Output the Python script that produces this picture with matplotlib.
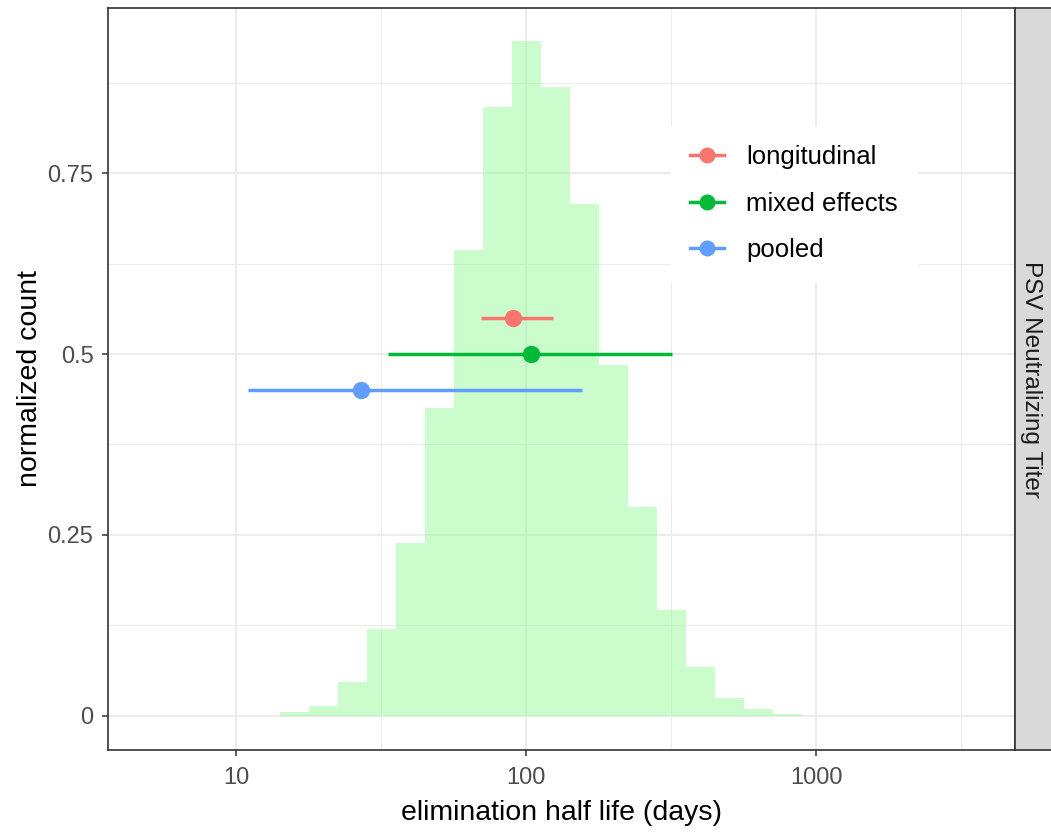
import numpy as np
import matplotlib.pyplot as plt
from matplotlib.lines import Line2D
from matplotlib.patches import Rectangle

plt.rcParams['font.family'] = ['Liberation Sans', 'DejaVu Sans']

# histogram of log10(half life), bin centres every 0.1 decade
bin_centres = [1.2, 1.3, 1.4, 1.5, 1.6, 1.7, 1.8, 1.9, 2.0, 2.1, 2.2,
               2.3, 2.4, 2.5, 2.6, 2.7, 2.8, 2.9]
norm_count = [0.006, 0.014, 0.047, 0.12, 0.239, 0.426, 0.643, 0.841, 0.932,
              0.869, 0.707, 0.485, 0.288, 0.147, 0.067, 0.025, 0.009, 0.003]

# point estimates with intervals
methods = ['longitudinal', 'mixed effects', 'pooled']
estimate = [90, 104, 27]
lower = [70, 33.4, 11]
upper = [124, 318, 156]
y_pos = [0.55, 0.50, 0.45]
colours = ['#F8766D', '#00BA38', '#619CFF']

fig = plt.figure(figsize=(10.51, 8.32), dpi=100)
fig.patch.set_facecolor('white')
ax = fig.add_axes([0.1028, 0.0986, 0.8629, 0.8918])
ax.set_xscale('log')
ax.set_axisbelow(True)

edges = [10 ** (bin_centres[0] - 0.05)] + [10 ** (c + 0.05) for c in bin_centres]
ax.stairs(norm_count, edges, fill=True, color='palegreen', alpha=0.5, lw=0)

for m, est, lo, hi, y, c in zip(methods, estimate, lower, upper, y_pos, colours):
    ax.plot([lo, hi], [y, y], color=c, lw=2.5, solid_capstyle='butt', zorder=3)
    ax.plot([est], [y], 'o', color=c, ms=11.5, zorder=4)

ax.set_xlim(10 ** 0.5586, 10 ** 3.686)
ax.set_ylim(-0.047, 0.978)
ax.set_xticks([10, 100, 1000])
ax.set_xticklabels(['10', '100', '1000'])
ax.set_xticks([10 ** 1.5, 10 ** 2.5, 10 ** 3.5], minor=True)
ax.set_xticklabels([], minor=True)
ax.set_yticks([0, 0.25, 0.5, 0.75])
ax.set_yticklabels(['0', '0.25', '0.5', '0.75'])
ax.set_yticks([0.125, 0.375, 0.625, 0.875], minor=True)

ax.grid(True, which='major', color='#EBEBEB', lw=1.3)
ax.grid(True, which='minor', color='#EBEBEB', lw=0.7)
ax.tick_params(which='major', length=4, width=1.1, color='#333333',
               labelsize=17, labelcolor='#4D4D4D')
ax.tick_params(axis='x', which='major', pad=8)
ax.tick_params(axis='y', which='major', pad=6.5)
ax.tick_params(which='minor', length=0)
for s in ax.spines.values():
    s.set_color('#333333')
    s.set_linewidth(1.2)

ax.set_xlabel('elimination half life (days)', fontsize=20.5, color='black', labelpad=8)
ax.set_ylabel('normalized count', fontsize=20.5, color='black', labelpad=3)

handles = [Line2D([0], [0], color=c, lw=2.5, marker='o', ms=10.5) for c in colours]
leg = ax.legend(handles, methods, loc='center', bbox_to_anchor=(0.7565, 0.736),
                frameon=True, fontsize=18.5, handlelength=1.3, labelspacing=0.88,
                borderpad=0.75, handletextpad=0.88, fancybox=False)
leg.get_frame().set_edgecolor('white')
leg.get_frame().set_facecolor('white')
leg.get_frame().set_alpha(1)

# facet strip on the right
strip = Rectangle((0.9657, 0.0986), 0.05, 0.8918, transform=fig.transFigure,
                  facecolor='#D9D9D9', edgecolor='#333333', lw=1.2)
fig.add_artist(strip)
fig.text(0.981, 0.0986 + 0.8918 / 2, 'PSV Neutralizing Titer', rotation=-90,
         ha='center', va='center', fontsize=17.5, color='#1A1A1A')

fig.savefig('out.png', dpi=100)
